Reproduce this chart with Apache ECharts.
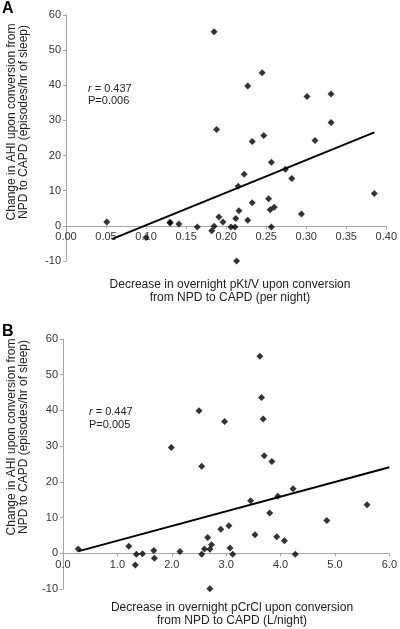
<!DOCTYPE html>
<html>
<head>
<meta charset="utf-8">
<script src="https://cdn.jsdelivr.net/npm/echarts@6/dist/echarts.min.js"></script>
<style>html,body{margin:0;padding:0;background:#fff;}#c{width:400px;height:629px;}</style>
</head>
<body>
<div id="c"></div>
<script>
// Panel A: decrease in pKt/V vs change in AHI
const xA = [0.185, 0.227, 0.245, 0.301, 0.331, 0.051, 0.100, 0.130, 0.130, 0.141, 0.164, 0.182, 0.185, 0.188, 0.191, 0.196, 0.206, 0.211, 0.212, 0.213, 0.215, 0.216, 0.2225, 0.227, 0.2325, 0.2325, 0.247, 0.253, 0.255, 0.2565, 0.2565, 0.260, 0.274, 0.282, 0.294, 0.311, 0.331, 0.385];
const yA = [55.2, 39.8, 43.6, 36.8, 37.5, 1.1, -3.3, 1.0, 0.8, 0.5, -0.3, -1.4, -0.1, 27.4, 2.5, 1.1, -0.3, -0.3, 2.1, -10.0, 11.3, 4.3, 14.7, 1.6, 24.0, 6.6, 25.7, 7.7, 4.6, 18.1, -0.3, 5.3, 16.1, 13.5, 3.4, 24.3, 29.4, 9.2];
const trendAx = [0.058, 0.385];
const trendAy = [-3.7, 26.6];
const xTicksA = [0, 0.05, 0.10, 0.15, 0.20, 0.25, 0.30, 0.35, 0.40];

// Panel B: decrease in pCrCl vs change in AHI
const xB = [3.62, 3.65, 2.50, 2.97, 3.68, 1.99, 0.28, 1.21, 1.33, 1.35, 1.46, 1.67, 1.68, 2.15, 2.55, 2.55, 2.60, 2.66, 2.70, 2.70, 2.73, 2.90, 3.05, 3.07, 3.12, 3.45, 3.53, 3.70, 3.80, 3.84, 3.93, 3.95, 4.07, 4.23, 4.27, 4.85, 5.59];
const yB = [55.2, 43.6, 39.9, 36.9, 37.6, 29.6, 1.2, 2.0, -3.3, -0.3, -0.1, 0.8, -1.4, 0.5, 24.4, -0.3, 1.2, 4.4, -9.9, 1.1, 2.4, 6.7, 7.7, 1.5, -0.3, 14.7, 5.2, 27.3, 11.3, 25.7, 4.6, 16.0, 3.5, 18.1, -0.3, 9.2, 13.6];
const trendBx = [0.29, 6.0];
const trendBy = [0.6, 24.1];
const xTicksB = [0, 1, 2, 3, 4, 5, 6];

const yTicks = [-10, 0, 10, 20, 30, 40, 50, 60];

const yTitle = "Change in AHI upon conversion from\nNPD to CAPD (episodes/hr of sleep)";
const xTitleA = "Decrease in overnight pKt/V upon conversion\nfrom NPD to CAPD (per night)";
const xTitleB = "Decrease in overnight pCrCl upon conversion\nfrom NPD to CAPD (L/night)";

const zip = (a, b) => a.map((v, i) => [v, b[i]]);
const FONT = "Liberation Sans, Arial, sans-serif";
const axisGray = '#a6a6a6';

const grids = [
  { left: 66, top: 15, width: 322, height: 246 },
  { left: 63, top: 339, width: 330, height: 250 }
];
const yMin = yTicks[0], yMax = yTicks[yTicks.length - 1];

function xAxisCfg(grid, ticks, dec) {
  // place the axis on y = 0 (moved up from the grid's bottom edge)
  const off = -grids[grid].height * (0 - yMin) / (yMax - yMin);
  return {
    type: 'value', gridIndex: grid, position: 'bottom', offset: off,
    min: ticks[0], max: ticks[ticks.length - 1], interval: ticks[1] - ticks[0],
    splitLine: { show: false },
    axisLine: { onZero: false, lineStyle: { color: axisGray, width: 1 } },
    axisTick: { show: true, inside: false, length: 3, lineStyle: { color: axisGray } },
    axisLabel: { color: '#333', fontSize: 11, fontFamily: FONT, margin: 6,
      formatter: v => v.toFixed(dec) }
  };
}
function yAxisCfg(grid) {
  return {
    type: 'value', gridIndex: grid,
    min: yMin, max: yMax, interval: 10,
    splitLine: { show: false },
    axisLine: { onZero: false, lineStyle: { color: axisGray, width: 1 } },
    axisTick: { show: true, inside: false, length: 3, lineStyle: { color: axisGray } },
    axisLabel: { color: '#333', fontSize: 11, fontFamily: FONT, margin: 5 }
  };
}

const chart = echarts.init(document.getElementById('c'), null, { renderer: 'canvas' });
chart.setOption({
  animation: false,
  backgroundColor: '#fff',
  grid: grids,
  xAxis: [xAxisCfg(0, xTicksA, 2), xAxisCfg(1, xTicksB, 1)],
  yAxis: [yAxisCfg(0), yAxisCfg(1)],
  series: [
    { type: 'scatter', xAxisIndex: 0, yAxisIndex: 0, symbol: 'diamond', symbolSize: 7,
      itemStyle: { color: '#000' }, data: zip(xA, yA), z: 3 },
    { type: 'line', xAxisIndex: 0, yAxisIndex: 0, showSymbol: false, symbol: 'none',
      lineStyle: { color: '#000', width: 2 }, data: zip(trendAx, trendAy) },
    { type: 'scatter', xAxisIndex: 1, yAxisIndex: 1, symbol: 'diamond', symbolSize: 7,
      itemStyle: { color: '#000' }, data: zip(xB, yB), z: 3 },
    { type: 'line', xAxisIndex: 1, yAxisIndex: 1, showSymbol: false, symbol: 'none',
      lineStyle: { color: '#000', width: 2 }, data: zip(trendBx, trendBy) }
  ],
  graphic: [
    { type: 'text', left: 2, top: 1, style: { text: 'A', font: 'bold 16px ' + FONT, fill: '#000' } },
    { type: 'text', left: 2, top: 324, style: { text: 'B', font: 'bold 16px ' + FONT, fill: '#000' } },
    { type: 'text', x: 18, y: 122, rotation: Math.PI / 2,
      style: { text: yTitle, font: '12px ' + FONT, fill: '#222', align: 'center', verticalAlign: 'middle', lineHeight: 12 } },
    { type: 'text', x: 18, y: 437, rotation: Math.PI / 2,
      style: { text: yTitle, font: '12px ' + FONT, fill: '#222', align: 'center', verticalAlign: 'middle', lineHeight: 12 } },
    { type: 'text', x: 230, y: 291,
      style: { text: xTitleA, font: '12px ' + FONT, fill: '#222', align: 'center', verticalAlign: 'middle', lineHeight: 13.5 } },
    { type: 'text', x: 232, y: 614,
      style: { text: xTitleB, font: '12px ' + FONT, fill: '#222', align: 'center', verticalAlign: 'middle', lineHeight: 13.5 } },
    { type: 'text', x: 88, y: 95,
      style: { text: '{i|r} = 0.437\nP=0.006', font: '11px ' + FONT, fill: '#222', verticalAlign: 'middle', lineHeight: 12.5,
        rich: { i: { fontStyle: 'italic', fontSize: 11, fontFamily: FONT, fill: '#222' } } } },
    { type: 'text', x: 89, y: 418,
      style: { text: '{i|r} = 0.447\nP=0.005', font: '11px ' + FONT, fill: '#222', verticalAlign: 'middle', lineHeight: 13,
        rich: { i: { fontStyle: 'italic', fontSize: 11, fontFamily: FONT, fill: '#222' } } } }
  ]
});
</script>
</body>
</html>
